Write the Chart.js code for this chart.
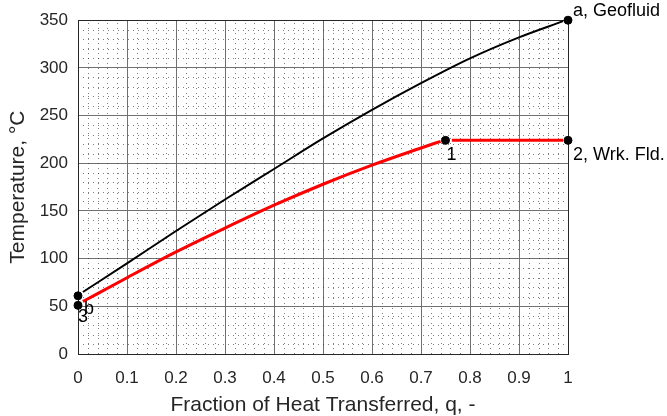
<!DOCTYPE html>
<html>
<head>
<meta charset="utf-8">
<script src="https://cdn.jsdelivr.net/npm/chart.js@4/dist/chart.umd.min.js"></script>
<style>
  body { margin: 0; background: #fff; }
</style>
</head>
<body>
<canvas id="tq-grafik" width="667" height="416"></canvas>
<script>
// geofluid (hot side) temperature vs fraction of heat transferred
var geoQ = [0.01, 0.1, 0.2, 0.3, 0.4, 0.5, 0.6, 0.7, 0.8, 0.9, 0.99];
var geoT = [65, 95, 129, 162, 194, 226, 256, 284, 310, 332, 349];

// working fluid preheating, 3 -> 1
var wfHeatQ = [0.01, 0.1, 0.2, 0.3, 0.4, 0.5, 0.6, 0.7, 0.74];
var wfHeatT = [55, 80, 107, 132, 156, 178, 198, 216, 223];

// working fluid boiling at constant temperature, 1 -> 2
var wfBoilQ = [0.763, 0.99];
var wfBoilT = [224, 224];

// state points and their names
var stateQ = [1, 0, 0, 0.75, 1];
var stateT = [350, 61, 51, 224, 224];
var stateNames = ["a, Geofluid", "b", "3", "1", "2, Wrk. Fld."];

var xTicks = [0, 0.1, 0.2, 0.3, 0.4, 0.5, 0.6, 0.7, 0.8, 0.9, 1];
var yTicks = [0, 50, 100, 150, 200, 250, 300, 350];

var fontAile = "'Liberation Sans', Arial, Helvetica, sans-serif";
var metinRengi = "#262626";

function noktalar(xs, ys) {
    var d = [];
    for (var i = 0; i < xs.length; i++) d.push({ x: xs[i], y: ys[i] });
    return d;
}

// label offsets (px) relative to each state point, [dx, dy, baseline]
var etiketKonum = [
    [5, -4, "alphabetic"],
    [6, 4, "top"],
    [0, 3, "top"],
    [1, 6, "top"],
    [5, 6, "top"]
];

// dotted minor grid every 0.02 in q and 10 in T, plus the axes box
var araIzgara = {
    id: "araIzgara",
    beforeDatasetsDraw: function (chart) {
        var ctx = chart.ctx, a = chart.chartArea;
        var sx = chart.scales.x, sy = chart.scales.y;
        ctx.save();
        ctx.strokeStyle = "rgba(40,40,40,0.6)";
        ctx.lineWidth = 1;
        ctx.setLineDash([1, 4]);
        for (var i = 1; i < 50; i++) {
            if (i % 5 === 0) continue;
            var px = Math.round(sx.getPixelForValue(i * 0.02)) + 0.5;
            ctx.beginPath(); ctx.moveTo(px, a.bottom); ctx.lineTo(px, a.top); ctx.stroke();
        }
        for (var j = 1; j < 35; j++) {
            if (j % 5 === 0) continue;
            var py = Math.round(sy.getPixelForValue(j * 10)) + 0.5;
            ctx.beginPath(); ctx.moveTo(a.left, py); ctx.lineTo(a.right, py); ctx.stroke();
        }
        ctx.setLineDash([]);
        ctx.strokeStyle = metinRengi;
        ctx.strokeRect(Math.round(a.left) + 0.5, Math.round(a.top) + 0.5,
            Math.round(a.right - a.left), Math.round(a.bottom - a.top));
        ctx.restore();
    }
};

var durumEtiketleri = {
    id: "durumEtiketleri",
    afterDatasetsDraw: function (chart) {
        var ctx = chart.ctx;
        var sx = chart.scales.x, sy = chart.scales.y;
        ctx.save();
        ctx.fillStyle = "#000";
        ctx.font = "18px " + fontAile;
        ctx.textAlign = "left";
        for (var i = 0; i < stateNames.length; i++) {
            var k = etiketKonum[i];
            ctx.textBaseline = k[2];
            ctx.fillText(stateNames[i],
                sx.getPixelForValue(stateQ[i]) + k[0],
                sy.getPixelForValue(stateT[i]) + k[1]);
        }
        ctx.restore();
    }
};

function cizgi(xs, ys, renk, kalinlik) {
    return {
        data: noktalar(xs, ys),
        showLine: true,
        borderColor: renk,
        borderWidth: kalinlik,
        pointRadius: 0,
        cubicInterpolationMode: "monotone",
        fill: false,
        clip: false
    };
}

var chart = new Chart("tq-grafik", {
    type: "scatter",
    data: {
        datasets: [{
            data: noktalar(stateQ, stateT),
            pointRadius: 4,
            pointBackgroundColor: "#000",
            pointBorderColor: "#000",
            showLine: false,
            clip: false
        },
            cizgi(geoQ, geoT, "#000", 2),
            cizgi(wfHeatQ, wfHeatT, "#ff0000", 3),
            cizgi(wfBoilQ, wfBoilT, "#ff0000", 3)
        ]
    },
    options: {
        responsive: false,
        animation: false,
        layout: { padding: { top: 19, right: 99, left: 0, bottom: 0 } },
        plugins: {
            legend: { display: false },
            tooltip: { enabled: false }
        },
        scales: {
            x: {
                type: "linear",
                min: 0,
                max: 1,
                afterBuildTicks: function (s) { s.ticks = xTicks.map(function (v) { return { value: v }; }); },
                afterFit: function (s) { s.height = 62; },
                grid: { color: "#707070", lineWidth: 1, drawTicks: false },
                border: { display: false },
                ticks: {
                    padding: 14,
                    color: metinRengi,
                    font: { family: fontAile, size: 17 },
                    maxRotation: 0,
                    callback: function (v) { return String(Number(v.toFixed(1))); }
                },
                title: {
                    display: true,
                    text: "Fraction of Heat Transferred, q, -",
                    color: metinRengi,
                    font: { family: fontAile, size: 21, lineHeight: 1 },
                    padding: { top: 0, bottom: 0 }
                }
            },
            y: {
                type: "linear",
                min: 0,
                max: 350,
                afterBuildTicks: function (s) { s.ticks = yTicks.map(function (v) { return { value: v }; }); },
                afterFit: function (s) { s.width = 78; },
                grid: { color: "#707070", lineWidth: 1, drawTicks: false },
                border: { display: false },
                ticks: {
                    padding: 10,
                    color: metinRengi,
                    font: { family: fontAile, size: 17 }
                },
                title: {
                    display: true,
                    text: "Temperature, °C",
                    color: metinRengi,
                    font: { family: fontAile, size: 21 },
                    padding: { top: 6, bottom: 0 }
                }
            }
        }
    },
    plugins: [araIzgara, durumEtiketleri]
});
</script>
</body>
</html>
